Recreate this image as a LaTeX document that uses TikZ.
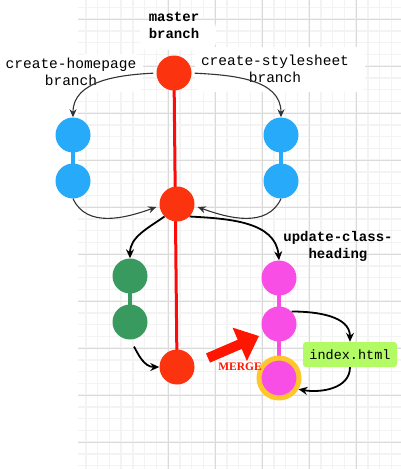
\documentclass[tikz,border=0pt]{standalone}
\usepackage{fontspec}
\setmainfont{Liberation Serif}
\setmonofont{Liberation Mono}
\usetikzlibrary{arrows.meta}
\definecolor{nodered}{RGB}{251,52,15}
\definecolor{linered}{RGB}{255,10,10}
\definecolor{mergered}{RGB}{255,22,0}
\definecolor{nodeblue}{RGB}{40,170,250}
\definecolor{nodegreen}{RGB}{56,154,94}
\definecolor{nodepink}{RGB}{249,78,229}
\definecolor{ringyellow}{RGB}{255,199,44}
\definecolor{boxgreen}{RGB}{178,251,100}
\definecolor{gridminor}{RGB}{243,243,243}
\definecolor{gridmajor}{RGB}{218,218,218}
\pgfdeclarelayer{bg}
\pgfdeclarelayer{links}
\pgfsetlayers{bg,links,main}
\begin{document}
\begin{tikzpicture}[x=1pt,y=1pt,
  commit/.style={circle,minimum size=35pt,inner sep=0pt},
  thinarr/.style={draw=black!80,line width=1.1pt,-{Stealth[length=8pt,width=7pt,inset=2.5pt]}},
  thickarr/.style={draw=black,line width=1.8pt,-{Stealth[length=9pt,width=8pt,inset=3pt]}},
  lbl/.style={font=\ttfamily\fontsize{14.5}{17}\selectfont,align=center,inner sep=0pt},
  blbl/.style={font=\ttfamily\bfseries\fontsize{14}{17}\selectfont,align=center,inner sep=0pt},
  link/.style={line width=4pt},
  filebox/.style={fill=boxgreen,rounded corners=3pt,minimum width=94pt,minimum height=25pt,inner sep=0pt,font=\ttfamily\fontsize{13.5}{15}\selectfont},
  gminor/.style={draw=gridminor,line width=1.5pt},
  gmajor/.style={draw=gridmajor,line width=0.9pt}]
\useasboundingbox (0,0) rectangle (401,-469);
\begin{pgfonlayer}{bg}
  \fill[white] (0,0) rectangle (401,-469);
  \foreach \i in {-7,...,19} \draw[gminor] ({168+\i*11.75},0) -- ({168+\i*11.75},-469);
  \foreach \i in {-21,...,18} \draw[gminor] (78,{-254-\i*11.75}) -- (401,{-254-\i*11.75});
  \foreach \i in {0,...,4} \draw[gmajor] ({168+\i*47},0) -- ({168+\i*47},-469);
  \foreach \i in {-5,...,4} \draw[gmajor] (78,{-254-\i*47}) -- (401,{-254-\i*47});
  \fill[white, rounded corners=8pt] (140,-20) rectangle (216,-50);
  \fill[white, rounded corners=8pt] (78,-54) rectangle (143,-92);
  \fill[white, rounded corners=8pt] (195,-47) rectangle (365,-92);
\end{pgfonlayer}

\node[commit,fill=nodered] (m1) at (174,-73) {};
\node[commit,fill=nodered] (m2) at (177,-204) {};
\node[commit,fill=nodered] (m3) at (177,-367) {};
\node[commit,fill=nodeblue] (b1) at (73,-135) {};
\node[commit,fill=nodeblue] (b2) at (73,-181) {};
\node[commit,fill=nodeblue] (c1) at (281,-135) {};
\node[commit,fill=nodeblue] (c2) at (281,-181) {};
\node[commit,fill=nodegreen] (g1) at (130,-276) {};
\node[commit,fill=nodegreen] (g2) at (130,-322) {};
\node[commit,fill=nodepink] (p1) at (279,-278) {};
\node[commit,fill=nodepink] (p2) at (279,-324) {};
\node[commit,fill=nodepink,draw=ringyellow,line width=5pt,minimum size=40pt] (p3) at (279,-378) {};

\node[filebox] (idx) at (350,-354.5) {index.html};

\node[blbl] (lm) at (174,-25.5) {master\\branch};
\node[lbl] (lh) at (71,-72) {create-homepage\\branch};
\node[lbl] (ls) at (275,-68.5) {create-stylesheet\\branch};
\node[blbl] (lu) at (338,-246.5) {update-class-\\heading};

\begin{pgfonlayer}{links}
  \draw[linered,line width=3pt] (m1.center) -- (m3.center);
  \draw[nodeblue,link] (b1.center) -- (b2.center);
  \draw[nodeblue,link] (c1.center) -- (c2.center);
  \draw[nodegreen,link] (g1.center) -- (g2.center);
  \draw[nodepink,link] (p1.center) -- (p2.center);
  \draw[nodepink,link] (p2.center) -- (p3.center);
\end{pgfonlayer}

\draw[thinarr,shorten <=3pt] (m1.west) to[out=183,in=90] (b1.north);
\draw[thinarr,shorten <=3pt] (m1.east) to[out=-3,in=90] (c1.north);
\draw[thinarr] (b2.south) to[out=-65,in=200] ([xshift=-3pt,yshift=-3pt]m2.west);
\draw[thinarr] (c2.south) to[out=-115,in=-20] ([xshift=3pt,yshift=-3pt]m2.east);
\draw[thickarr] (m2.south west) to[out=215,in=90] (g1.north);
\draw[thickarr] (m2.south east) to[out=-3,in=95] (p1.north);
\draw[thickarr,shorten <=8pt] (g2.south) to[out=-60,in=180] (m3.west);
\draw[thickarr] (p2.north east) to[out=0,in=90] (idx.north);
\draw[thickarr] (idx.south) to[out=-90,in=-10] (p3.-30);

\coordinate (ms) at (208,-358);
\coordinate (me) at (259,-336);
\draw[mergered,line width=10pt,-{Triangle[length=21pt,width=35pt]}] (ms) -- (me);
\node[font=\bfseries\fontsize{11.5}{12}\selectfont,text=mergered,inner sep=0pt] (mg) at (240,-366.5) {MERGE};
\end{tikzpicture}
\end{document}
